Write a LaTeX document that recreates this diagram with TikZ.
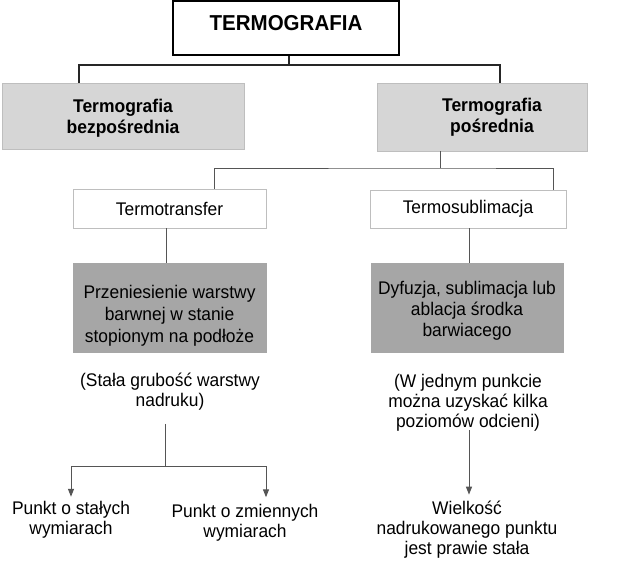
\documentclass[tikz,border=0pt]{standalone}
\usepackage{fontspec}
\setmainfont[FakeStretch=0.95]{Liberation Sans}
\usepackage{tikz}
\usetikzlibrary{arrows.meta, calc}
\definecolor{mylight}{RGB}{214,214,214}
\definecolor{mydark}{RGB}{166,166,166}
\definecolor{myedge}{RGB}{190,190,190}
\definecolor{myline}{RGB}{85,85,85}
\tikzstyle{head} = [draw=black, line width=1.5pt, fill=white,
    minimum width=226pt, minimum height=54pt, text height=15.5pt, text depth=10pt,
    font=\fontsize{21.6}{26}\selectfont\bfseries]
\tikzstyle{lightbox} = [draw=myedge, line width=0.8pt, fill=mylight, inner sep=0pt,
    text depth=0pt, font=\fontsize{18.4}{21}\selectfont\bfseries, align=center]
\tikzstyle{whitebox} = [draw=myedge, line width=0.8pt, fill=white, inner sep=0pt,
    font=\fontsize{18.3}{21}\selectfont]
\tikzstyle{darkbox} = [draw=mydark, fill=mydark, inner sep=0pt, text depth=0pt,
    font=\fontsize{18.3}{22}\selectfont, align=center]
\tikzstyle{plain} = [inner sep=0pt, font=\fontsize{18.3}{20}\selectfont, align=center]
\tikzstyle{link} = [draw=black!85, line width=1.2pt]
\tikzstyle{thin link} = [draw=myline, line width=1pt]
\tikzstyle{arrow link} = [thin link, -{Triangle[length=8pt,width=6pt]}]

\begin{document}
\begin{tikzpicture}[x=1pt, y=-1pt]
\useasboundingbox[fill=white] (0,0) rectangle (624,574);

    % 1. Top and first level
    \node[head] (termo) at (286,28) {TERMOGRAFIA};
    \node[lightbox, minimum width=242pt, minimum height=66pt, text height=34pt] (bezp) at (123,116) {Termografia\\bezpośrednia};
    \node[lightbox, minimum width=210pt, minimum height=68pt] (posr) at (482,117) {};
    \node[lightbox, draw=none, fill=none, text height=30pt] (posrtxt) at (492,117) {Termografia\\pośrednia};

    % 2. Second level, x = column, y = row
    \node[whitebox, minimum width=193pt, minimum height=39pt] (tt) at (169.5,208.5) {Termotransfer};
    \node[whitebox, minimum width=196pt, minimum height=38pt] (ts) at (468,209) {Termosublimacja};
    \node[darkbox, minimum width=193pt, minimum height=89pt, text height=69pt] (przen) at (169.5,307.5) {Przeniesienie warstwy\\barwnej w stanie\\stopionym na podłoże};
    \node[darkbox, minimum width=192pt, minimum height=89pt, text height=57pt, font=\fontsize{18.3}{21}\selectfont] (dyf) at (467,307.5) {Dyfuzja, sublimacja lub\\ablacja środka\\barwiacego};

    % 3. Notes and results
    \node[plain] (stala) at (170,392) {(Stała grubość warstwy\\nadruku)};
    \node[plain] (wjed) at (468,403) {(W jednym punkcie\\można uzyskać kilka\\poziomów odcieni)};
    \node[plain] (pstal) at (71,519.5) {Punkt o stałych\\wymiarach};
    \node[plain] (pzm) at (245,522.5) {Punkt o zmiennych\\wymiarach};
    \node[plain] (wielk) at (467,530) {Wielkość\\nadrukowanego punktu\\jest prawie stała};

    % 4. Connections
    \coordinate (j1) at (289,65);
    \coordinate (j2) at (440,168);
    \coordinate (j3) at (165,466);
    \coordinate (c1) at (79,0);
    \coordinate (c2) at (500,0);
    \coordinate (c3) at (214,0);
    \coordinate (c4) at (553,0);
    \coordinate (c5) at (166,0);
    \coordinate (c6) at (469,0);
    \coordinate (c7) at (266,0);
\draw[link] (termo.south -| j1) -- (j1);
\draw[link] (bezp.north -| c1) |- (j1) -| (posr.north -| c2);
\draw[thin link] (posr.south -| j2) -- (j2);
\draw[thin link] (tt.north -| c3) |- (j2) -| (ts.north -| c4);
\draw[thin link] (tt.south -| c5) -- (przen.north -| c5);
\draw[thin link] (ts.south -| c6) -- (dyf.north -| c6);
\draw[thin link, shorten <=13pt] (stala.south -| j3) -- (j3);
\draw[arrow link, shorten >=4pt] (j3) -| (pstal.north);
\draw[arrow link, shorten >=6.5pt] (j3) -| (pzm.north -| c7);
\draw[arrow link, shorten <=-1.5pt, shorten >=6.5pt] (wjed.south -| c6) -- (wielk.north -| c6);

\end{tikzpicture}
\end{document}
